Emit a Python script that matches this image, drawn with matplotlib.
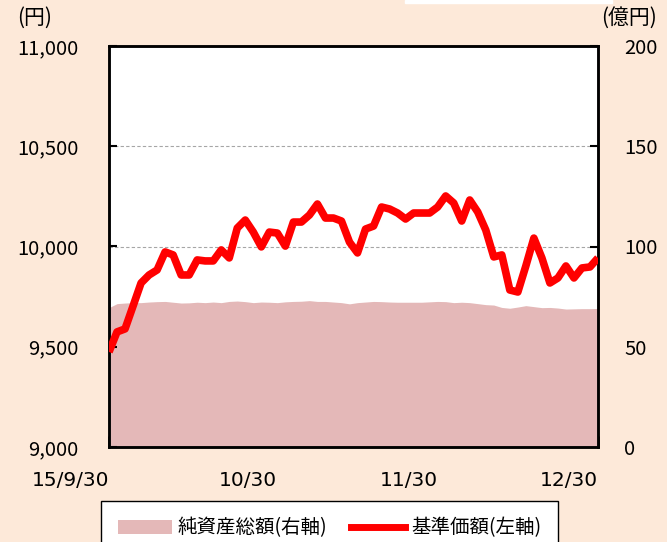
import numpy as np
import matplotlib.pyplot as plt
from matplotlib.patches import Patch, Rectangle
from matplotlib.lines import Line2D

plt.rcParams['font.family'] = ['Noto Sans CJK JP', 'DejaVu Sans']

# trading-day index 0..61 (15/9/30 .. 12/30)
tick_pos = [0, 21, 41, 61]
tick_labels = ['15/9/30', '10/30', '11/30', '12/30']

# 基準価額 (円, left axis)
nav = [9474, 9574, 9589, 9703, 9818, 9858, 9883, 9973, 9958, 9858,
       9858, 9933, 9928, 9928, 9983, 9943, 10092, 10132, 10072, 9998,
       10072, 10067, 10002, 10122, 10122, 10157, 10212, 10142, 10142, 10127,
       10022, 9968, 10087, 10102, 10197, 10187, 10167, 10137, 10167, 10167,
       10167, 10197, 10252, 10217, 10127, 10232, 10172, 10082, 9948, 9958,
       9783, 9773, 9903, 10042, 9943, 9818, 9843, 9903, 9843, 9893,
       9898, 9943]

# 純資産総額 (億円, right axis)
assets = [69.5, 71.5, 71.8, 72.0, 72.0, 72.3, 72.5, 72.6, 72.2, 71.8,
          71.9, 72.2, 72.0, 72.3, 72.0, 72.6, 72.8, 72.5, 72.0, 72.3,
          72.2, 72.0, 72.4, 72.6, 72.7, 73.0, 72.6, 72.6, 72.3, 72.0,
          71.4, 72.0, 72.3, 72.6, 72.5, 72.3, 72.2, 72.2, 72.2, 72.2,
          72.4, 72.6, 72.5, 72.0, 72.2, 72.0, 71.5, 71.0, 70.8, 69.6,
          69.2, 69.8, 70.5, 70.0, 69.5, 69.6, 69.3, 68.8, 68.9, 69.0,
          69.0, 69.1]

bg = '#FDE9D9'
area_col = '#E4B8B8'

x = np.arange(len(nav))

fig = plt.figure(figsize=(6.67, 5.42), dpi=100, facecolor=bg)
fig.patches.append(Rectangle((405 / 667, 1 - 3 / 542), 207 / 667, 3 / 542,
                             transform=fig.transFigure, color='white', zorder=0))

ax = fig.add_axes([109 / 667, 1 - 447 / 542, 489 / 667, 401 / 542])
ax2 = ax.twinx()

# area on the host axis (right scale), line on the twin (left scale)
ax.fill_between(x, assets, 0, color=area_col, lw=0, zorder=2)
ax.set_ylim(0, 200)
ax.set_yticks([0, 50, 100, 150, 200])
ax.yaxis.tick_right()
ax.set_axisbelow(True)
ax.grid(axis='y', color='#A6A6A6', lw=0.8, ls=(0, (3, 2)))

ax2.plot(x, nav, color='#FF0000', lw=5.5, solid_joinstyle='round',
         solid_capstyle='butt', zorder=3)
ax2.set_ylim(9000, 11000)
ax2.set_yticks([9000, 9500, 10000, 10500, 11000])
ax2.set_yticklabels(['{:,}'.format(v) for v in [9000, 9500, 10000, 10500, 11000]])
ax2.yaxis.tick_left()

ax.set_xlim(0, 61)
ax.set_xticks(tick_pos)
ax.set_xticklabels(tick_labels, ha='right', family=['DejaVu Sans'])

for a in (ax, ax2):
    for s in a.spines.values():
        s.set_linewidth(1.8)
        s.set_color('black')

ax.tick_params(axis='y', direction='in', length=6, width=1.5, pad=19,
               labelsize=14.5, labelright=True, labelleft=False, right=True, left=False)
ax2.tick_params(axis='y', direction='in', length=6, width=1.5, pad=22,
                labelsize=14.5, labelleft=True, labelright=False, left=True, right=False)
ax.tick_params(axis='x', direction='in', length=8, width=2, pad=17, labelsize=14.5)
ax2.tick_params(axis='x', bottom=False, labelbottom=False)

fig.text(35 / 667, 1 - 18 / 542, '(円)', fontsize=15, ha='center', va='center')
fig.text(629 / 667, 1 - 18 / 542, '(億円)', fontsize=15, ha='center', va='center')

handles = [Patch(facecolor=area_col, edgecolor='none'),
           Line2D([0], [0], color='#FF0000', lw=5)]
leg = fig.legend(handles, ['純資産総額(右軸)', '基準価額(左軸)'], ncol=2,
                 loc='upper left', bbox_to_anchor=(101 / 667, 1 - 501 / 542),
                 borderaxespad=0, frameon=True, fancybox=False,
                 edgecolor='black', facecolor='white', framealpha=1,
                 fontsize=14, handlelength=2.8, handletextpad=0.3,
                 columnspacing=1.2, borderpad=0.85)
leg.get_frame().set_linewidth(1.0)

fig.savefig('out.png', dpi=100, facecolor=bg)
